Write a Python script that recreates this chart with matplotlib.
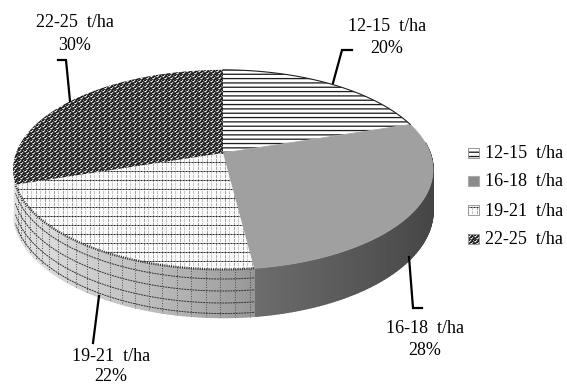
import numpy as np
import matplotlib
matplotlib.use("Agg")
import matplotlib.pyplot as plt
from matplotlib.patches import Polygon
from matplotlib.collections import PolyCollection

#chart values
classes = ["12-15", "16-18", "19-21", "22-25"]
shares = [20, 28, 22, 30]

plt.rcParams['font.family'] = ['Liberation Serif', 'DejaVu Serif']

W, H = 567, 385
fig = plt.figure(figsize=(W / 100, H / 100), dpi=100)
ax = fig.add_axes([0, 0, 1, 1])

#pie geometry in pixels, top face is a circle seen in perspective
cx, cy = 223, 153
A, B, k = 207, 97, 1 / 6
D = 40


def rim(theta, depth=0.0):
    t = np.radians(theta)
    w = 1 + k * np.cos(t)
    return cx + A * np.sin(t) / w, cy - B * np.cos(t) / w + depth * D / w


def wedge_poly(t0, t1):
    t = np.linspace(t0, t1, 120)
    x, y = rim(t)
    return np.vstack([[cx, cy], np.column_stack([x, y])])


#textures for the filled faces
def tex_lines():
    rows = np.arange(H)
    a = np.full(H, 255.0)
    for y0 in np.arange(0, H, 4.33):
        cover = np.clip(np.minimum(rows + 1, y0 + 1.3) - np.maximum(rows, y0), 0, 1)
        a -= cover * 225
    return np.tile(np.clip(a, 0, 255)[:, None], (1, W))


def tex_dark():
    tile = np.array([[30, 30, 215, 70, 30, 150],
                     [150, 250, 120, 30, 30, 60],
                     [60, 80, 30, 30, 190, 70],
                     [30, 30, 150, 245, 130, 30],
                     [70, 60, 60, 100, 30, 30]], float)
    return np.tile(tile, (H // 5 + 1, W // 6 + 1))[:H, :W]


def tex_grid():
    a = np.full((H, W), 250.0)
    a[:, ::9] = 165
    a[:, 4::9] = 200
    a[2::4, ::9] = 240
    a[2::4, 4::9] = 240
    a[::9, :] = 130
    a[::9, ::3] = 40
    return a


def show_tex(tex, poly):
    im = ax.imshow(tex, cmap="gray", vmin=0, vmax=255, extent=(0, W, H, 0),
                   interpolation="nearest", aspect="auto", zorder=3)
    patch = Polygon(poly, closed=True, transform=ax.transData, fc="none", ec="none")
    ax.add_patch(patch)
    im.set_clip_path(patch)


edges = np.cumsum([0] + shares) * 3.6

#side walls, split in small strips for the shading
def side(t0, t1, c0, c1):
    ts = np.linspace(t0, t1, 90)
    quads, cols = [], []
    for i in range(len(ts) - 1):
        xa, ya = rim(ts[i])
        xb, yb = rim(ts[i + 1])
        xc, yc = rim(ts[i + 1], 1)
        xd, yd = rim(ts[i], 1)
        quads.append([(xa, ya), (xb, yb), (xc, yc), (xd, yd)])
        g = c0 + (c1 - c0) * (i / (len(ts) - 1)) ** 2
        cols.append((g / 255, g / 255, g / 255))
    ax.add_collection(PolyCollection(quads, facecolors=cols, edgecolors=cols, linewidths=1.2, zorder=2))


side(84, edges[2], 66, 110)
side(edges[3] + 2, edges[2], 225, 150)

#dashed grid on the 19-21 wall
ts = np.linspace(edges[2], edges[3], 150)
for f in [0.2, 0.45, 0.7, 0.92]:
    x, y = rim(ts, f)
    ax.plot(x, y, color="#333333", lw=0.7, ls=(0, (2, 0.8)), zorder=2.5)
for t in np.arange(edges[2] + 1, edges[3], 3.4):
    x0, y0 = rim(t, 0)
    x1, y1 = rim(t, 1)
    ax.plot([x0, x1], [y0, y1], color="#444444", lw=0.6, ls=(0, (1.2, 1.8)), zorder=2.5)

#top faces
show_tex(tex_lines(), wedge_poly(edges[0], edges[1]))
ax.add_patch(Polygon(wedge_poly(edges[1], edges[2]), closed=True, fc="#a0a0a0", ec="#a8a8a8", lw=0.6, zorder=3))
show_tex(tex_grid(), wedge_poly(edges[2], edges[3]))
show_tex(tex_dark(), wedge_poly(edges[3], edges[4]))

x, y = rim(np.linspace(edges[0], edges[1], 80))
ax.plot(x, y, color="#222222", lw=0.8, zorder=4)
x, y = rim(np.linspace(edges[2], edges[3], 80))
ax.plot(x, y, color="#333333", lw=1.6, ls=(0, (0.5, 0.5)), zorder=4)

#leader lines
leaders = [
    ([333, 342, 352], [83, 50, 50]),
    ([409, 413, 422], [257, 308, 308]),
    ([99, 93], [296, 343]),
    ([70, 66, 58], [101, 60, 60]),
]
for lx, ly in leaders:
    ax.plot(lx, ly, color="black", lw=1.6, solid_joinstyle="miter", zorder=5)

#slice labels, y values are text baselines
label_pos = [(387, 31, 53), (425, 333, 355), (111, 361, 381), (75, 27, 50)]
for name, share, (lx, y1, y2) in zip(classes, shares, label_pos):
    ax.text(lx, y1, f"{name}  t/ha", ha="center", va="baseline", fontsize=13, color="black")
    ax.text(lx, y2, f"{share}%", ha="center", va="baseline", fontsize=13, color="black")

#legend
legend_y = [153, 181, 210, 239]
swatch = [tex_lines(), None, tex_grid(), tex_dark()]
for name, ly, tex in zip(classes, legend_y, swatch):
    box = [(468, ly - 5), (479, ly - 5), (479, ly + 5), (468, ly + 5)]
    if tex is None:
        ax.add_patch(Polygon(box, closed=True, fc="#8a8a8a", ec="#aaaaaa", lw=0.8, zorder=3))
    else:
        show_tex(tex, box)
        ax.add_patch(Polygon(box, closed=True, fc="none", ec="#999999", lw=0.7, zorder=4))
    ax.text(485, ly + 5.5, f"{name}  t/ha", ha="left", va="baseline", fontsize=13, color="black")

ax.set_xlim(0, W)
ax.set_ylim(H, 0)
ax.axis("off")
fig.savefig("out.png", dpi=100, facecolor="white")
